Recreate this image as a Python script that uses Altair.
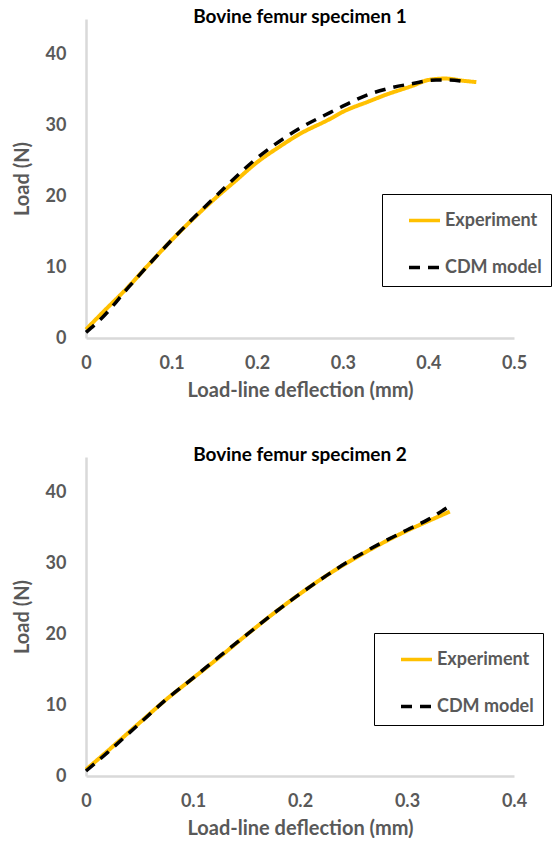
import altair as alt
import pandas as pd

series_names = ["Experiment", "CDM model"]
series_colors = ["#FFC000", "#000000"]
series_dashes = [[1, 0], [11, 8]]

# Specimen 1
s1_exp_x = [0, 0.017, 0.05, 0.069, 0.1, 0.125, 0.15, 0.175, 0.2, 0.225, 0.25, 0.285, 0.3,
            0.331, 0.35, 0.382, 0.4, 0.42, 0.44, 0.456]
s1_exp_y = [1.2, 3.3, 7.3, 9.8, 13.8, 16.8, 19.6, 22.2, 24.8, 26.9, 28.8, 30.9, 31.9,
            33.4, 34.3, 35.6, 36.4, 36.6, 36.3, 36.1]
s1_cdm_x = [0, 0.02, 0.05, 0.1, 0.15, 0.2, 0.25, 0.285, 0.3, 0.331, 0.35, 0.382, 0.409,
            0.425, 0.444]
s1_cdm_y = [0.8, 3.0, 7.2, 13.8, 19.8, 25.4, 29.6, 31.8, 32.7, 34.4, 35.1, 35.9, 36.4,
            36.4, 36.1]

# Specimen 2
s2_exp_x = [0, 0.02, 0.05, 0.075, 0.1, 0.125, 0.15, 0.175, 0.2, 0.225, 0.25, 0.275, 0.3,
            0.319, 0.34]
s2_exp_y = [0.9, 3.5, 7.5, 10.8, 13.8, 16.8, 19.9, 22.9, 25.7, 28.3, 30.6, 32.7, 34.6,
            35.9, 37.3]
s2_cdm_x = [0, 0.02, 0.05, 0.075, 0.1, 0.125, 0.15, 0.175, 0.2, 0.225, 0.25, 0.275, 0.3,
            0.32, 0.337]
s2_cdm_y = [0.7, 3.3, 7.4, 10.8, 13.8, 16.9, 19.9, 22.9, 25.7, 28.3, 30.7, 32.8, 34.7,
            36.2, 37.8]

titles = ["Bovine femur specimen 1", "Bovine femur specimen 2"]
x_ticks_1 = [0, 0.1, 0.2, 0.3, 0.4, 0.5]
x_ticks_2 = [0, 0.1, 0.2, 0.3, 0.4]
y_ticks = [0, 10, 20, 30, 40]

FONT = "Lato"
GRAY = "#595959"


def frame(xs, ys, name):
    return pd.DataFrame({"x": xs, "y": ys, "series": name, "i": range(len(xs))})


def panel(title, exp_x, exp_y, cdm_x, cdm_y, x_ticks, legend_x, legend_y):
    xmax = x_ticks[-1]
    legend = alt.Legend(
        title=None, orient="none", legendX=legend_x, legendY=legend_y,
        strokeColor="#000000", fillColor="white", padding=9,
        symbolType="stroke", symbolSize=961, symbolStrokeWidth=3.5, symbolOffset=16,
        labelFont=FONT, labelFontSize=18, labelFontWeight="bold", labelColor=GRAY,
        labelOffset=3, rowPadding=20,
    )
    color = alt.Color("series:N", scale=alt.Scale(domain=series_names, range=series_colors),
                      legend=legend)
    dash = alt.StrokeDash("series:N", scale=alt.Scale(domain=series_names, range=series_dashes),
                          legend=legend)
    x = alt.X("x:Q", scale=alt.Scale(domain=[0, xmax], nice=False),
              axis=alt.Axis(values=x_ticks, format=".1~f", title="Load-line deflection (mm)",
                            labelPadding=16, titlePadding=8))
    y = alt.Y("y:Q", scale=alt.Scale(domain=[0, 45], nice=False),
              axis=alt.Axis(values=y_ticks, title="Load (N)", labelPadding=20, titlePadding=13))
    exp = alt.Chart(frame(exp_x, exp_y, series_names[0])).mark_line(
        strokeWidth=4, interpolate="monotone").encode(x=x, y=y, color=color, strokeDash=dash,
                                                      order="i:Q")
    cdm = alt.Chart(frame(cdm_x, cdm_y, series_names[1])).mark_line(
        strokeWidth=3.5, interpolate="monotone").encode(x=x, y=y, color=color, strokeDash=dash,
                                                        order="i:Q")
    return alt.layer(exp, cdm).properties(
        width=428, height=319,
        title=alt.TitleParams(title, fontSize=19, font=FONT, fontWeight="bold", color="black",
                              anchor="middle", offset=-8),
    )


p1 = panel(titles[0], s1_exp_x, s1_exp_y, s1_cdm_x, s1_cdm_y, x_ticks_1, 296, 175)
p2 = panel(titles[1], s2_exp_x, s2_exp_y, s2_cdm_x, s2_cdm_y, x_ticks_2, 288, 176)

chart = alt.vconcat(p1, p2, spacing=46).resolve_scale(
    color="independent", strokeDash="independent", x="independent", y="independent"
).resolve_legend(color="independent", strokeDash="independent").properties(
    padding={"left": 12, "top": 8, "right": 0, "bottom": 0}
).configure(font=FONT).configure_view(stroke=None).configure_axis(
    grid=False, ticks=False, tickSize=0, domainColor="#D9D9D9", domainWidth=2.5,
    labelColor=GRAY, labelFont=FONT, labelFontSize=18, labelFontWeight="bold",
    labelFlush=False, labelOverlap=False,
    titleColor=GRAY, titleFont=FONT, titleFontSize=20, titleFontWeight="bold",
)

chart.save("out.html", embed_options={"renderer": "svg", "actions": False})
